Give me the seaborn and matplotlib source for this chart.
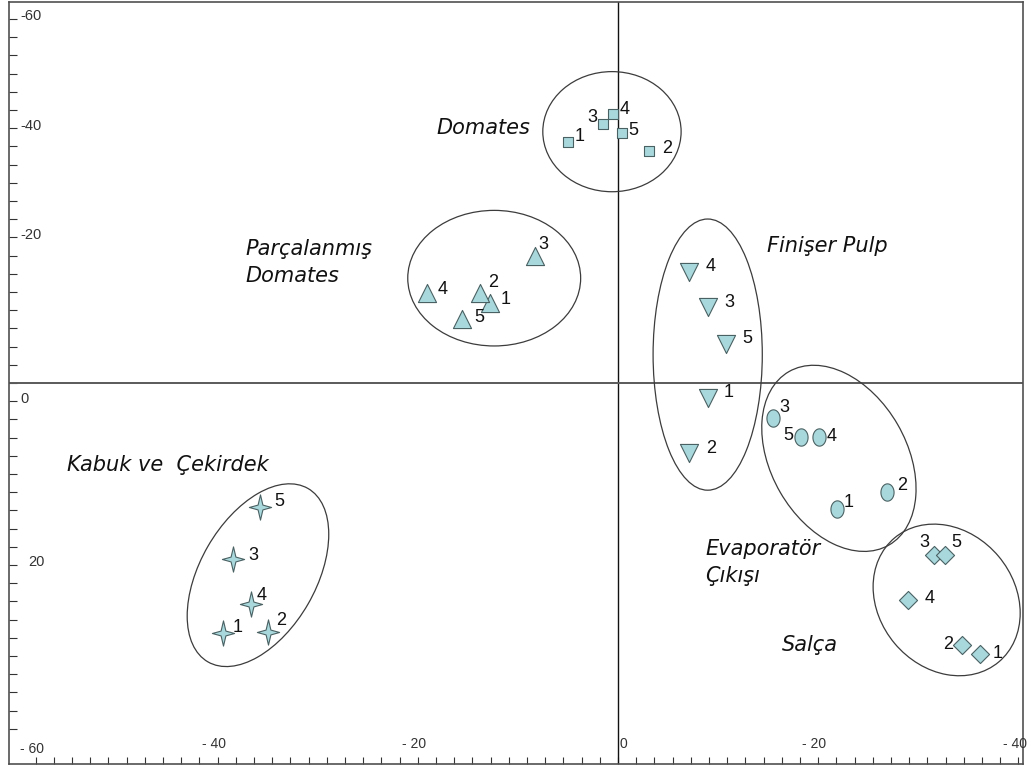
import numpy as np
import matplotlib
matplotlib.use("Agg")
import matplotlib.pyplot as plt
from matplotlib.path import Path
from matplotlib.patches import Ellipse
import seaborn as sns

# ---- scores of the five samples in each processing stage (PC1, PC2) ----
sample_ids = ["1", "2", "3", "4", "5"]

domates_x = [-5.5, 3.4, -1.6, -0.5, 0.4]
domates_y = [26.5, 25.5, 28.5, 29.6, 27.5]

parcalanmis_x = [-14.1, -15.2, -9.1, -21.0, -17.1]
parcalanmis_y = [8.8, 9.9, 14.0, 9.9, 7.0]

finiser_x = [9.9, 7.8, 9.9, 7.8, 11.9]
finiser_y = [-1.6, -7.7, 8.4, 12.2, 4.3]

evaporator_x = [24.1, 29.6, 17.0, 22.1, 20.1]
evaporator_y = [-13.8, -12.0, -3.8, -5.9, -5.9]

salca_x = [39.8, 37.8, 34.7, 31.9, 35.9]
salca_y = [-29.8, -28.8, -18.9, -23.8, -18.9]

kabuk_x = [-43.4, -38.5, -42.3, -40.3, -39.3]
kabuk_y = [-27.5, -27.4, -19.3, -24.3, -13.6]

group_names = ["Domates", "Parçalanmış\nDomates", "Finişer Pulp",
               "Evaporatör\nÇıkışı", "Salça", "Kabuk ve  Çekirdek"]

# axis tick labels as printed on the chart
xtick_labels = ["- 60", "- 40", "- 20", "0", "- 20", "- 40"]
xtick_pos = [-64, -44, -22, 0, 22, 44]
ytick_labels = ["-60", "-40", "-20", "0", "20"]
ytick_pos = [40, 28, 16, -2, -20]

# ---- styling ----
sns.set_theme(style="white")
plt.rcParams["font.family"] = ["DejaVu Sans"]

FILL = "#a9d8dc"
EDGE = "#4a6163"
LINE = "#3c3c3c"

# custom marker shapes
t = np.linspace(0, 2 * np.pi, 61)
oval_marker = Path(np.column_stack([0.38 * np.cos(t), 0.5 * np.sin(t)]), closed=True)

star_pts = []
for k in range(8):
    a = np.pi / 2 + k * np.pi / 4
    r = 1.0 if k % 2 == 0 else 0.27
    sx = 0.88 if k % 2 == 0 else 1.0
    star_pts.append((r * sx * np.cos(a), r * np.sin(a)))
star_pts.append(star_pts[0])
star_marker = Path(np.array(star_pts), closed=True)

groups = [
    # x, y, marker, size, ellipse (dx, dy, width, height, angle), label pos, label offsets
    dict(x=domates_x, y=domates_y, marker="s", s=55,
         ell=(0.1, 0.1, 15.2, 13.2, 0), text=(-19.9, 28.0),
         offs=[(12, 5), (18, 2), (-11, 6), (11, 4), (12, 2)]),
    dict(x=parcalanmis_x, y=parcalanmis_y, marker="^", s=170,
         ell=(1.7, 1.6, 19.0, 14.9, 0), text=(-40.9, 13.2),
         offs=[(16, 3), (13, 10), (8, 11), (16, 3), (17, 2)]),
    dict(x=finiser_x, y=finiser_y, marker="v", s=170,
         ell=(0.4, 0.0, 12.0, 29.8, 0), text=(16.4, 15.05),
         offs=[(21, 5), (22, 5), (21, 4), (22, 5), (21, 5)]),
    dict(x=evaporator_x, y=evaporator_y, marker=oval_marker, s=155,
         ell=(1.7, 0.0, 14.9, 22.0, 30), text=(9.6, -19.7),
         offs=[(11, 6), (15, 7), (12, 10), (13, 0), (-13, 1)]),
    dict(x=salca_x, y=salca_y, marker="D", s=85,
         ell=(0.1, 0.2, 14.9, 17.8, 40), text=(18.0, -28.8),
         offs=[(17, 1), (-14, 1), (-9, 12), (21, 1), (12, 12)]),
    dict(x=kabuk_x, y=kabuk_y, marker=star_marker, s=330,
         ell=(1.2, 1.3, 12.7, 22.0, -30), text=(-60.55, -9.0),
         offs=[(15, 6), (14, 12), (20, 3), (10, 9), (19, 5)]),
]

fig = plt.figure(figsize=(10.27, 7.66), dpi=100)
fig.patch.set_facecolor("white")
ax = fig.add_axes([9 / 1027, 2 / 766, 1014 / 1027, 762 / 766])
ax.set_facecolor("white")

# origin cross
ax.axvline(0, color="#111111", lw=1.0, zorder=1)
ax.axhline(0, color="#5a5a5a", lw=1.4, zorder=1)

for name, g in zip(group_names, groups):
    xs = np.asarray(g["x"])
    ys = np.asarray(g["y"])
    sns.scatterplot(x=xs, y=ys, marker=g["marker"], s=g["s"], color=FILL,
                    edgecolor=EDGE, linewidth=0.8, ax=ax, legend=False, zorder=3)
    dx, dy, w, h, ang = g["ell"]
    ax.add_patch(Ellipse((xs.mean() + dx, ys.mean() + dy), w, h, angle=ang,
                         fill=False, ec=LINE, lw=0.9, zorder=2))
    for sid, xv, yv, off in zip(sample_ids, xs, ys, g["offs"]):
        ax.annotate(sid, (xv, yv), xytext=off, textcoords="offset pixels",
                    ha="center", va="center", fontsize=13,
                    family="Liberation Sans", color="#111111", zorder=4)
    ax.text(g["text"][0], g["text"][1], name, ha="left", va="center",
            fontsize=15, style="italic", color="#111111", linespacing=1.45)

ax.set_xlim(-66.92, 44.51)
ax.set_ylim(-41.87, 41.87)

# small inward ticks every two units
ax.set_xticks(np.arange(-64, 45, 2))
ax.set_yticks(np.arange(-38, 41, 2))
ax.tick_params(axis="x", direction="in", length=5, width=0.8, color="#333333",
               bottom=True, top=False, labelbottom=False)
ax.tick_params(axis="y", direction="in", length=5.8, width=0.8, color="#333333",
               left=True, right=False, labelleft=False)
ax.grid(False)

for lab, pos in zip(xtick_labels, xtick_pos):
    if lab == "0":
        ax.text(pos + 0.2, -39.67, lab, ha="left", va="center", fontsize=10,
                family="Liberation Sans", color="#333333")
    else:
        ax.text(pos - 0.4, -40.2 if pos == -64 else -39.67, lab, ha="center",
                va="center", fontsize=10, family="Liberation Sans", color="#333333")

for lab, pos in zip(ytick_labels, ytick_pos):
    xl = -64.8 if lab == "20" else -65.7
    ax.text(xl, pos - 0.15, lab, ha="left", va="baseline", fontsize=10.5,
            family="Liberation Sans", color="#333333")

for sp in ax.spines.values():
    sp.set_visible(True)
    sp.set_color("#505050")
    sp.set_linewidth(1.2)

fig.savefig("out.png", dpi=100, facecolor="white")
